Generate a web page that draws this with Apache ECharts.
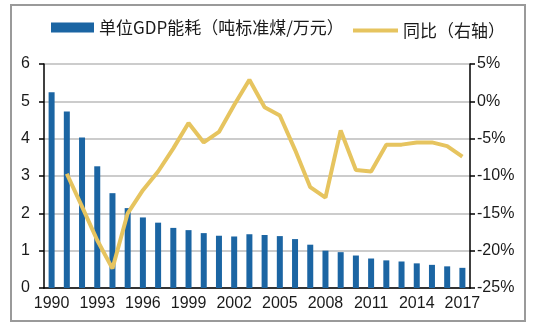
<!DOCTYPE html>
<html><head><meta charset="utf-8">
<script src="https://cdn.jsdelivr.net/npm/echarts@6/dist/echarts.min.js"></script>
<style>html,body{margin:0;padding:0;background:#fff}#c{width:534px;height:328px}</style>
</head><body><div id="c"></div>
<script>
var years = ['1990','1991','1992','1993','1994','1995','1996','1997','1998','1999','2000','2001','2002','2003','2004','2005','2006','2007','2008','2009','2010','2011','2012','2013','2014','2015','2016','2017'];
var energyIntensity = [5.24,4.73,4.03,3.26,2.54,2.14,1.89,1.75,1.61,1.55,1.47,1.40,1.38,1.44,1.42,1.39,1.31,1.16,1.00,0.96,0.87,0.79,0.74,0.71,0.66,0.62,0.58,0.54];
var yoyChange = [null,-9.7,-14.1,-18.6,-22.4,-15.0,-11.9,-9.4,-6.3,-2.9,-5.5,-4.1,-0.5,2.9,-0.8,-1.9,-6.5,-11.5,-12.9,-3.9,-9.2,-9.4,-5.8,-5.8,-5.5,-5.5,-6.0,-7.4];
var barName = '单位GDP能耗（吨标准煤/万元）';
var lineName = '同比（右轴）';

var numFont = '"Liberation Sans Narrow","Arial Narrow","Liberation Sans",sans-serif';
var cjkFont = '"Noto Sans CJK SC","Noto Sans",sans-serif';
var chart = echarts.init(document.getElementById('c'));
chart.setOption({
  animation: false,
  backgroundColor: '#fff',
  graphic: [{type:'rect', shape:{x:11,y:5,width:514,height:316}, style:{fill:null, stroke:'#9a9a9a', lineWidth:2}, silent:true}],
  legend: [
    {data:[{name:barName, icon:'rect'}], left:46, top:14, itemWidth:43, itemHeight:10, textStyle:{fontFamily:cjkFont, fontSize:17, color:'#1a1a1a'}},
    {data:[{name:lineName, icon:'rect'}], left:348, top:17, itemWidth:45, itemHeight:4, textStyle:{fontFamily:cjkFont, fontSize:17, color:'#1a1a1a'}}
  ],
  grid: {left:44, right:64, top:64, bottom:40, containLabel:false},
  xAxis: {
    type:'category', data:years, boundaryGap:true,
    axisLine:{lineStyle:{color:'#000', width:1.5}},
    axisTick:{interval:2, length:5, lineStyle:{color:'#000', width:1.5}},
    axisLabel:{interval:2, margin:8, fontFamily:numFont, fontSize:16, color:'#1a1a1a'}
  },
  yAxis: [
    {type:'value', min:0, max:6, interval:1,
     axisLine:{show:true, lineStyle:{color:'#000', width:1.5}},
     axisTick:{show:true, length:5, lineStyle:{color:'#000', width:1.5}},
     axisLabel:{margin:14, fontFamily:numFont, fontSize:16, color:'#1a1a1a'},
     splitLine:{lineStyle:{color:'#cccccc', width:2}}},
    {type:'value', min:-25, max:5, interval:5, position:'right',
     axisLine:{show:true, lineStyle:{color:'#000', width:1.5}},
     axisTick:{show:true, length:5, lineStyle:{color:'#000', width:1.5}},
     axisLabel:{margin:7, fontFamily:numFont, fontSize:16, color:'#1a1a1a', formatter:'{value}%'},
     splitLine:{show:false}}
  ],
  series: [
    {name:barName, type:'bar', data:energyIntensity, barWidth:6, itemStyle:{color:'#1b65a3'}},
    {name:lineName, type:'line', yAxisIndex:1, data:yoyChange, symbol:'none', itemStyle:{color:'#e6c45f'}, lineStyle:{color:'#e6c45f', width:4}}
  ]
});
</script></body></html>
